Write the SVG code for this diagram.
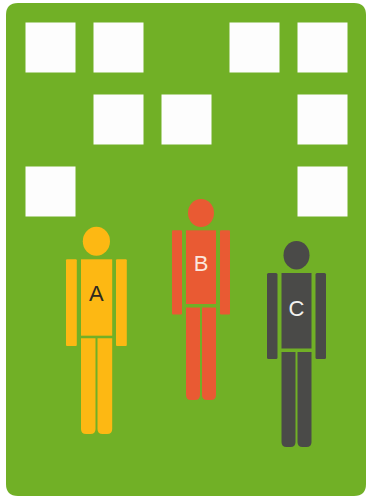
<svg xmlns="http://www.w3.org/2000/svg" width="366" height="496" viewBox="0 0 366 496">
<style>
.sq{fill:#fdfdfd}
.a{fill:#fdb813}
.b{fill:#e95a33}
.c{fill:#4a4a48}
text{font-family:"Liberation Sans",Arial,sans-serif;font-size:22px;text-anchor:middle}
</style>
<rect width="366" height="496" fill="#fff"/>
<path id="panel" d="M18 3H354Q366 3 366 15V484Q366 496 354 496H18Q6 496 6 484V15Q6 3 18 3Z" fill="#71b026"/>
<g id="squares">
<rect class="sq" x="25.5" y="22.5" width="50" height="50"/>
<rect class="sq" x="93.5" y="22.5" width="50" height="50"/>
<rect class="sq" x="229.5" y="22.5" width="50" height="50"/>
<rect class="sq" x="297.5" y="22.5" width="50" height="50"/>
<rect class="sq" x="93.5" y="94.5" width="50" height="50"/>
<rect class="sq" x="161.5" y="94.5" width="50" height="50"/>
<rect class="sq" x="297.5" y="94.5" width="50" height="50"/>
<rect class="sq" x="25.5" y="166.5" width="50" height="50"/>
<rect class="sq" x="297.5" y="166.5" width="50" height="50"/>
</g>
<g id="person-a" class="a">
<ellipse cx="96.4" cy="241.2" rx="13.6" ry="14.5"/>
<rect x="81" y="259.3" width="31.2" height="76.4"/>
<rect x="66" y="259.3" width="10.8" height="86.7" rx="1"/>
<rect x="116" y="259.3" width="10.8" height="86.7" rx="1"/>
<path d="M81 338.3H95.5V429Q95.5 434 90.5 434H86Q81 434 81 429Z"/>
<path d="M97.5 338.3H112.2V429Q112.2 434 107.2 434H102.5Q97.5 434 97.5 429Z"/>
<text x="96.4" y="301" fill="#2e2a20">A</text>
</g>
<g id="person-b" class="b">
<ellipse cx="201" cy="213" rx="13" ry="14"/>
<rect x="186" y="230.3" width="30" height="73.7"/>
<rect x="172" y="230.3" width="10" height="84.2" rx="1"/>
<rect x="220" y="230.3" width="10" height="84.2" rx="1"/>
<path d="M186 307.5H200V395Q200 400 195 400H191Q186 400 186 395Z"/>
<path d="M202 307.5H216V395Q216 400 211 400H207Q202 400 202 395Z"/>
<text x="201" y="271" fill="#fbe6de">B</text>
</g>
<g id="person-c" class="c">
<ellipse cx="296.5" cy="255.2" rx="13" ry="14.3"/>
<rect x="281.5" y="273" width="30" height="75.5"/>
<rect x="267" y="273" width="10.5" height="86" rx="1.5"/>
<rect x="315.5" y="273" width="10.5" height="86" rx="1.5"/>
<path d="M281.5 352H295.5V442Q295.5 447 290.5 447H286.5Q281.5 447 281.5 442Z"/>
<path d="M297.5 352H311.5V442Q311.5 447 306.5 447H302.5Q297.5 447 297.5 442Z"/>
<text x="296.5" y="315.5" fill="#f2f2f0">C</text>
</g>
</svg>
